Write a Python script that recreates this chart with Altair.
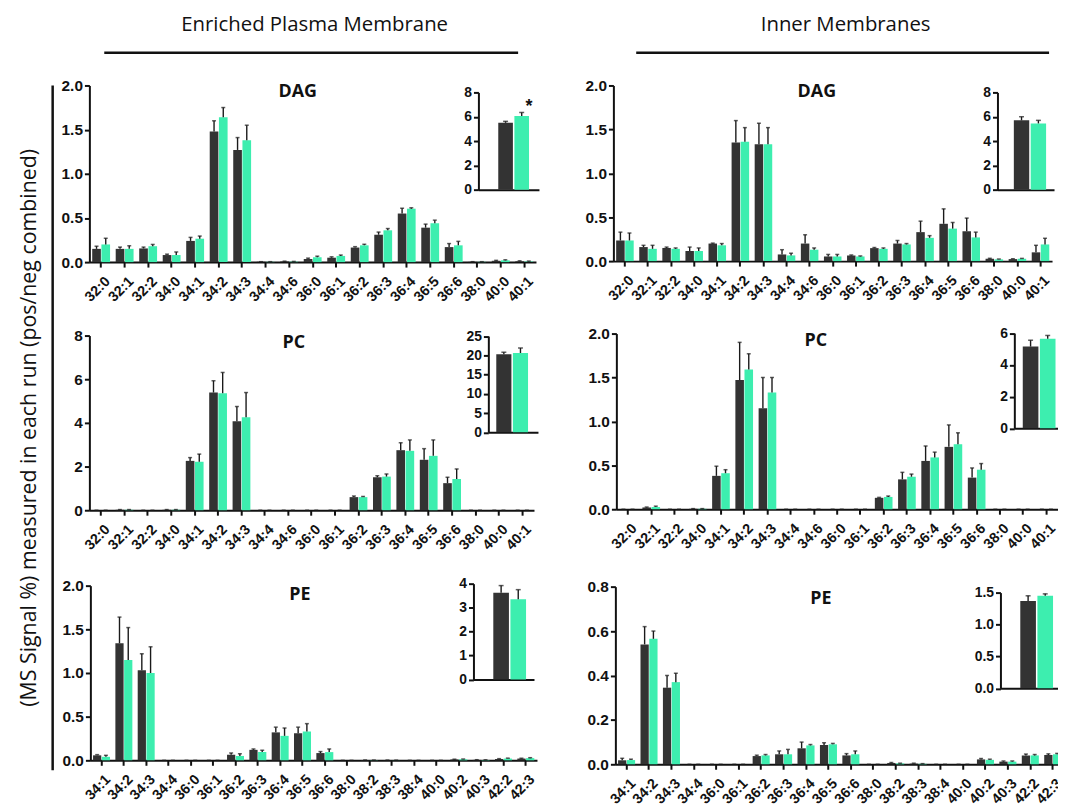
import altair as alt
import pandas as pd

# ---------------- data ----------------
groups = ["Control", "Treated"]

cats_dag_pc = ["32:0", "32:1", "32:2", "34:0", "34:1", "34:2", "34:3", "34:4", "34:6",
               "36:0", "36:1", "36:2", "36:3", "36:4", "36:5", "36:6", "38:0", "40:0", "40:1"]
cats_pe = ["34:1", "34:2", "34:3", "34:4", "36:0", "36:1", "36:2", "36:3", "36:4", "36:5",
           "36:6", "38:0", "38:2", "38:3", "38:4", "40:0", "40:2", "40:3", "42:2", "42:3"]

# DAG - Enriched Plasma Membrane
dag_pm_ctrl = [0.15, 0.15, 0.155, 0.08, 0.24, 1.48, 1.27, 0.003, 0.008, 0.035, 0.05, 0.165, 0.31, 0.55, 0.39, 0.17, 0.003, 0.015, 0.01]
dag_pm_ctrl_err = [0.03, 0.02, 0.015, 0.01, 0.04, 0.12, 0.14, 0.002, 0.003, 0.01, 0.01, 0.01, 0.03, 0.06, 0.04, 0.04, 0.002, 0.005, 0.005]
dag_pm_trt = [0.2, 0.15, 0.18, 0.08, 0.265, 1.64, 1.38, 0.003, 0.005, 0.055, 0.07, 0.19, 0.36, 0.605, 0.44, 0.19, 0.003, 0.02, 0.008]
dag_pm_trt_err = [0.07, 0.035, 0.02, 0.035, 0.03, 0.11, 0.17, 0.002, 0.003, 0.012, 0.01, 0.012, 0.02, 0.01, 0.035, 0.045, 0.002, 0.006, 0.004]

# DAG - Inner Membranes
dag_in_ctrl = [0.235, 0.16, 0.15, 0.115, 0.2, 1.35, 1.33, 0.076, 0.2, 0.053, 0.064, 0.148, 0.2, 0.33, 0.425, 0.34, 0.027, 0.023, 0.1]
dag_in_ctrl_err = [0.095, 0.02, 0.01, 0.045, 0.005, 0.25, 0.24, 0.054, 0.1, 0.023, 0.006, 0.007, 0.035, 0.125, 0.17, 0.15, 0.005, 0.004, 0.08]
dag_in_trt = [0.235, 0.14, 0.14, 0.115, 0.18, 1.36, 1.33, 0.065, 0.13, 0.053, 0.053, 0.14, 0.19, 0.265, 0.37, 0.27, 0.02, 0.027, 0.19]
dag_in_trt_err = [0.085, 0.04, 0.01, 0.035, 0.02, 0.16, 0.19, 0.025, 0.02, 0.023, 0.006, 0.01, 0.01, 0.025, 0.07, 0.06, 0.004, 0.004, 0.07]

# PC - Enriched Plasma Membrane
pc_pm_ctrl = [0, 0.02, 0, 0.02, 2.26, 5.39, 4.08, 0, 0, 0, 0, 0.6, 1.51, 2.75, 2.31, 1.24, 0, 0, 0]
pc_pm_ctrl_err = [0, 0.01, 0, 0.01, 0.15, 0.54, 0.67, 0, 0, 0, 0, 0.05, 0.07, 0.34, 0.51, 0.27, 0, 0, 0]
pc_pm_trt = [0, 0.02, 0, 0.02, 2.22, 5.36, 4.26, 0, 0, 0, 0, 0.6, 1.54, 2.72, 2.49, 1.43, 0, 0, 0]
pc_pm_trt_err = [0, 0.01, 0, 0.01, 0.35, 0.95, 1.13, 0, 0, 0, 0, 0.03, 0.12, 0.5, 0.73, 0.46, 0, 0, 0]

# PC - Inner Membranes
pc_in_ctrl = [0, 0.02, 0, 0.005, 0.38, 1.47, 1.15, 0, 0, 0, 0, 0.13, 0.34, 0.55, 0.71, 0.36, 0, 0, 0]
pc_in_ctrl_err = [0, 0.005, 0, 0.002, 0.11, 0.43, 0.35, 0, 0, 0, 0, 0.005, 0.08, 0.17, 0.25, 0.11, 0, 0, 0]
pc_in_trt = [0, 0.025, 0, 0.005, 0.41, 1.59, 1.33, 0, 0, 0, 0, 0.14, 0.37, 0.59, 0.74, 0.45, 0, 0, 0]
pc_in_trt_err = [0, 0.01, 0, 0.002, 0.04, 0.18, 0.17, 0, 0, 0, 0, 0.01, 0.03, 0.06, 0.13, 0.07, 0, 0, 0]

# PE - Enriched Plasma Membrane
pe_pm_ctrl = [0.057, 1.34, 1.03, 0, 0, 0, 0.064, 0.12, 0.32, 0.31, 0.083, 0, 0.003, 0.002, 0, 0, 0.01, 0.005, 0.015, 0.02]
pe_pm_ctrl_err = [0.008, 0.3, 0.19, 0, 0, 0, 0.02, 0.01, 0.06, 0.07, 0.017, 0, 0.001, 0.001, 0, 0, 0.003, 0.002, 0.004, 0.004]
pe_pm_trt = [0.04, 1.15, 1.0, 0, 0, 0, 0.05, 0.094, 0.28, 0.33, 0.094, 0, 0.002, 0.001, 0, 0, 0.012, 0.004, 0.02, 0.025]
pe_pm_trt_err = [0.017, 0.37, 0.3, 0, 0, 0, 0.025, 0.02, 0.09, 0.09, 0.036, 0, 0.001, 0.001, 0, 0, 0.003, 0.002, 0.005, 0.005]

# PE - Inner Membranes
pe_in_ctrl = [0.018, 0.54, 0.345, 0, 0, 0, 0.037, 0.045, 0.072, 0.087, 0.04, 0, 0.006, 0.003, 0, 0, 0.022, 0.012, 0.04, 0.042]
pe_in_ctrl_err = [0.009, 0.08, 0.055, 0, 0, 0, 0.004, 0.015, 0.028, 0.01, 0.008, 0, 0.002, 0.002, 0, 0, 0.004, 0.003, 0.006, 0.005]
pe_in_trt = [0.019, 0.565, 0.37, 0, 0, 0, 0.04, 0.045, 0.085, 0.09, 0.045, 0, 0.004, 0.002, 0, 0, 0.02, 0.012, 0.04, 0.045]
pe_in_trt_err = [0.004, 0.035, 0.04, 0, 0, 0, 0.004, 0.022, 0.004, 0.004, 0.015, 0, 0.001, 0.001, 0, 0, 0.003, 0.003, 0.004, 0.004]

# Inset totals (control, treated)
dag_pm_total = [5.5, 6.05]
dag_pm_total_err = [0.12, 0.3]
dag_pm_total_sig = ["", "*"]
dag_in_total = [5.7, 5.45]
dag_in_total_err = [0.3, 0.25]
pc_pm_total = [20.3, 20.6]
pc_pm_total_err = [0.5, 1.3]
pc_in_total = [5.15, 5.65]
pc_in_total_err = [0.4, 0.2]
pe_pm_total = [3.62, 3.35]
pe_pm_total_err = [0.3, 0.4]
pe_in_total = [1.37, 1.45]
pe_in_total_err = [0.08, 0.03]

header_left = "Enriched Plasma Membrane"
header_right = "Inner Membranes"
y_title = "(MS Signal %) measured in each run (pos/neg combined)"

# ---------------- style / layout ----------------
PAGE = 8
W, H = 1058, 801
DARK = "#333333"
GREEN = "#3DEEAF"
INK = "#111111"
ERR = "#1a1a1a"
AXIS_FONT = "Liberation Sans"
TITLE_FONT = "Open Sans"


def px(v):
    return v - PAGE


color = alt.Color("group:N", scale=alt.Scale(domain=groups, range=[DARK, GREEN]), legend=None)


def y_axis(x0, ticks, fmt, size=15.5):
    return alt.Axis(orient="left", offset=-px(x0), values=ticks, format=fmt, title=None,
                    labelFont=AXIS_FONT, labelFontWeight="bold", labelFontSize=size,
                    labelColor=INK, labelPadding=2, tickSize=5, tickWidth=2, tickColor=INK,
                    domainWidth=2, domainColor=INK, grid=False)


def main_panel(cats, c, ce, t, te, x0, x1, ybase, ytop, ymax, ticks, fmt):
    n = len(cats)
    df = pd.DataFrame({
        "species": cats + cats,
        "group": [groups[0]] * n + [groups[1]] * n,
        "mean": c + t,
        "err": ce + te,
    })
    df["top"] = df["mean"] + df["err"]

    def xs():
        return alt.Scale(domain=cats, range=[px(x0), px(x1)], paddingInner=0.24, paddingOuter=0.12)

    def xo():
        return alt.XOffset("group:N", sort=groups, scale=alt.Scale(domain=groups, paddingInner=0.06))

    def ys():
        return alt.Scale(domain=[0, ymax], range=[px(ybase), px(ytop)], nice=False)

    xa = alt.Axis(orient="bottom", offset=px(ybase) - H, title=None, labelAngle=-45,
                  labelAlign="right", labelBaseline="top", labelPadding=7, labelOffset=2,
                  labelFont=AXIS_FONT, labelFontWeight="bold", labelFontSize=14.5,
                  labelColor=INK, labelOverlap=False, labelFlush=False, tickSize=5, tickWidth=2,
                  tickColor=INK, domainWidth=2, domainColor=INK, grid=False)
    bars = alt.Chart(df).mark_bar().encode(
        x=alt.X("species:N", sort=cats, scale=xs(), axis=xa),
        xOffset=xo(),
        y=alt.Y("mean:Q", scale=ys(), axis=y_axis(x0, ticks, fmt)),
        color=color,
    )
    rules = alt.Chart(df).mark_rule(color=ERR, strokeWidth=1.4).encode(
        x=alt.X("species:N", sort=cats, scale=xs(), axis=None),
        xOffset=xo(),
        y=alt.Y("mean:Q", scale=ys(), axis=None),
        y2="top:Q",
    )
    caps = alt.Chart(df).mark_tick(color=ERR, thickness=1.5, size=4).encode(
        x=alt.X("species:N", sort=cats, scale=xs(), axis=None),
        xOffset=xo(),
        y=alt.Y("top:Q", scale=ys(), axis=None),
    )
    return [bars, rules, caps]


def inset_panel(vals, errs, x0, x1, b0, b1, ybase, ytop, ymax, ticks, fmt, sig=None):
    df = pd.DataFrame({"group": groups, "mean": vals, "err": errs,
                       "sig": sig if sig else ["", ""]})
    df["top"] = df["mean"] + df["err"]
    gap = 1.5
    bw = (b1 - b0 - gap) / 2
    step = bw + gap
    outer = (x1 - x0) - (b1 - b0)

    def xs():
        return alt.Scale(domain=groups, range=[px(x0), px(x1)], paddingInner=gap / step,
                         paddingOuter=outer / (2 * step), align=(b0 - x0) / outer)

    def ys():
        return alt.Scale(domain=[0, ymax], range=[px(ybase), px(ytop)], nice=False)

    xa = alt.Axis(orient="bottom", offset=px(ybase) - H, title=None, labels=False, ticks=False,
                  domainWidth=2, domainColor=INK, grid=False)
    bars = alt.Chart(df).mark_bar().encode(
        x=alt.X("group:N", sort=groups, scale=xs(), axis=xa),
        y=alt.Y("mean:Q", scale=ys(), axis=y_axis(x0, ticks, fmt, 14)),
        color=color,
    )
    rules = alt.Chart(df).mark_rule(color=ERR, strokeWidth=1.4).encode(
        x=alt.X("group:N", sort=groups, scale=xs(), axis=None),
        y=alt.Y("mean:Q", scale=ys(), axis=None),
        y2="top:Q",
    )
    caps = alt.Chart(df).mark_tick(color=ERR, thickness=1.5, size=5).encode(
        x=alt.X("group:N", sort=groups, scale=xs(), axis=None),
        y=alt.Y("top:Q", scale=ys(), axis=None),
    )
    layers = [bars, rules, caps]
    if sig:
        stars = alt.Chart(df).mark_text(font=AXIS_FONT, fontSize=18, fontWeight="bold",
                                        color=INK, baseline="alphabetic", dy=0).encode(
            x=alt.X("group:N", sort=groups, scale=xs(), axis=None),
            y=alt.Y("top:Q", scale=ys(), axis=None),
            text="sig:N",
        )
        layers.append(stars)
    return layers


def label(text, x, y, size, weight, font, angle=0):
    return alt.Chart(pd.DataFrame({"t": [text]})).mark_text(
        font=font, fontSize=size, fontWeight=weight, angle=angle, align="center",
        baseline="middle", color=INK,
    ).encode(text="t:N", x=alt.value(px(x)), y=alt.value(px(y)))


def hline(x0, x1, y):
    return alt.Chart(pd.DataFrame({"a": [0]})).mark_rule(strokeWidth=2.5, color=INK).encode(
        x=alt.value(px(x0)), x2=alt.value(px(x1)), y=alt.value(px(y)))


def vline(x, y0, y1):
    return alt.Chart(pd.DataFrame({"a": [0]})).mark_rule(strokeWidth=2.5, color=INK).encode(
        x=alt.value(px(x)), y=alt.value(px(y0)), y2=alt.value(px(y1)))


f1 = ".1f"
layers = []
layers += main_panel(cats_dag_pc, dag_pm_ctrl, dag_pm_ctrl_err, dag_pm_trt, dag_pm_trt_err,
                     90, 540, 261, 83, 2.0, [0, 0.5, 1.0, 1.5, 2.0], f1)
layers += main_panel(cats_dag_pc, dag_in_ctrl, dag_in_ctrl_err, dag_in_trt, dag_in_trt_err,
                     618, 1060, 260, 83, 2.0, [0, 0.5, 1.0, 1.5, 2.0], f1)
layers += main_panel(cats_dag_pc, pc_pm_ctrl, pc_pm_ctrl_err, pc_pm_trt, pc_pm_trt_err,
                     90, 538, 511, 335, 8, [0, 2, 4, 6, 8], "d")
layers += main_panel(cats_dag_pc, pc_in_ctrl, pc_in_ctrl_err, pc_in_trt, pc_in_trt_err,
                     621, 1066, 510, 333, 2.0, [0, 0.5, 1.0, 1.5, 2.0], f1)
layers += main_panel(cats_pe, pe_pm_ctrl, pe_pm_ctrl_err, pe_pm_trt, pe_pm_trt_err,
                     91, 541, 763, 587, 2.0, [0, 0.5, 1.0, 1.5, 2.0], f1)
layers += main_panel(cats_pe, pe_in_ctrl, pe_in_ctrl_err, pe_in_trt, pe_in_trt_err,
                     620, 1072, 767, 588, 0.8, [0, 0.2, 0.4, 0.6, 0.8], f1)
layers += inset_panel(dag_pm_total, dag_pm_total_err, 482, 543, 502, 533, 188, 90, 8,
                      [0, 2, 4, 6, 8], "d", dag_pm_total_sig)
layers += inset_panel(dag_in_total, dag_in_total_err, 1005, 1062, 1021.5, 1054, 188, 90, 8,
                      [0, 2, 4, 6, 8], "d")
layers += inset_panel(pc_pm_total, pc_pm_total_err, 492, 542, 500, 532, 432.5, 335.5, 25,
                      [0, 5, 10, 15, 20, 25], "d")
layers += inset_panel(pc_in_total, pc_in_total_err, 1022, 1075, 1030.5, 1063.5, 428.5, 332.5, 6,
                      [0, 2, 4, 6], "d")
layers += inset_panel(pe_pm_total, pe_pm_total_err, 477, 538, 497, 530, 681.5, 585, 4,
                      [0, 1, 2, 3, 4], "d")
layers += inset_panel(pe_in_total, pe_in_total_err, 1008, 1075, 1028, 1061, 690.5, 594, 1.5,
                      [0, 0.5, 1.0, 1.5], f1)

layers += [
    label(header_left, 317, 22, 20.5, "normal", TITLE_FONT),
    label(header_right, 852, 22, 20.5, "normal", TITLE_FONT),
    hline(105, 522, 50),
    hline(641, 1057, 50),
    vline(53, 83, 773),
    label(y_title, 30, 428, 21.5, "normal", TITLE_FONT, angle=270),
    label("DAG", 300, 90, 18, "bold", TITLE_FONT),
    label("DAG", 823, 90, 18, "bold", TITLE_FONT),
    label("PC", 296, 343, 18, "bold", TITLE_FONT),
    label("PC", 822, 341, 18, "bold", TITLE_FONT),
    label("PE", 302, 596, 18, "bold", TITLE_FONT),
    label("PE", 827, 600, 18, "bold", TITLE_FONT),
]

chart = alt.layer(*layers).resolve_scale(
    x="independent", y="independent", xOffset="independent"
).properties(
    width=W, height=H, padding=0, autosize=alt.AutoSizeParams(type="none")
).configure_view(stroke=None)

chart.save("out.html", embed_options={"renderer": "svg", "actions": False})
